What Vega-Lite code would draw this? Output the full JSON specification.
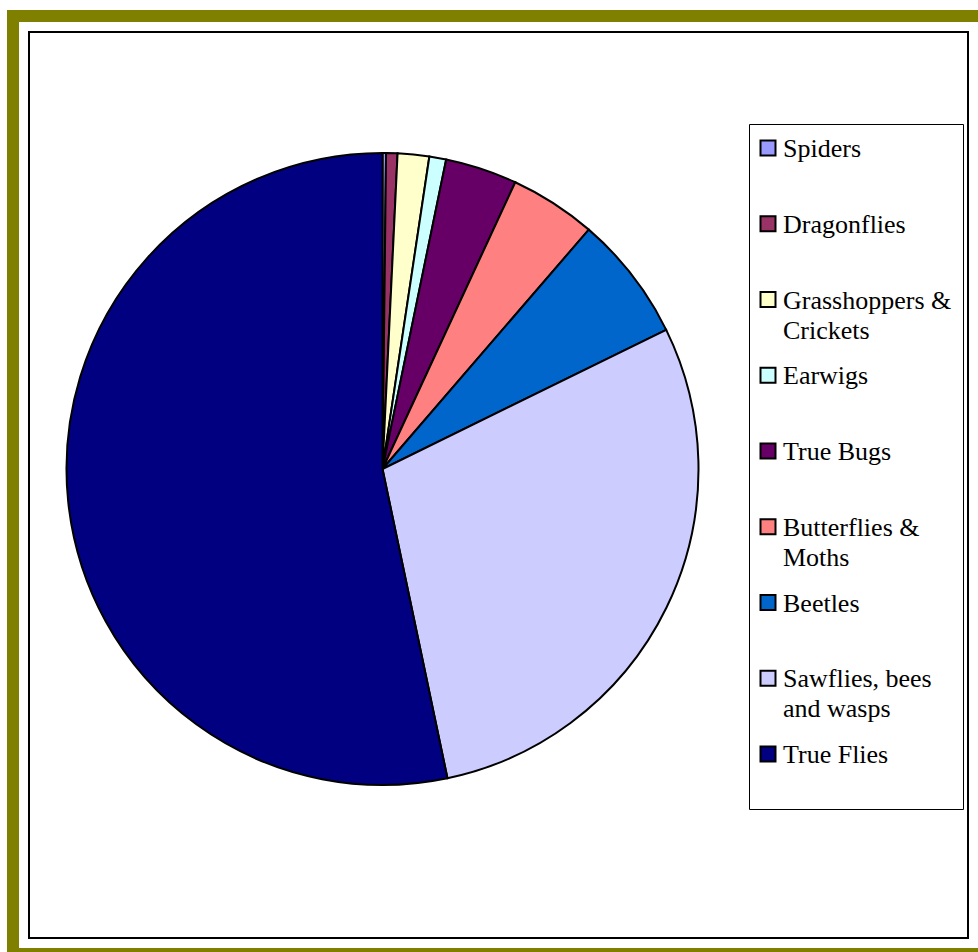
{
  "$schema": "https://vega.github.io/schema/vega-lite/v6.json",
  "width": 939,
  "height": 906,
  "autosize": "none",
  "padding": {"left": 29, "top": 32, "right": 10, "bottom": 14},
  "background": "white",
  "config": {"view": {"stroke": null}, "font": "Liberation Serif, Times New Roman, serif"},
  "layer": [
    {
      "data": {"values": [{"frame": "outer"}]},
      "mark": {"type": "rect", "fill": "transparent", "stroke": "#808000", "strokeWidth": 44},
      "encoding": {}
    },
    {
      "data": {"values": [{"frame": "gap"}]},
      "mark": {"type": "rect", "fill": "white", "stroke": "white", "strokeWidth": 20},
      "encoding": {}
    },
    {
      "data": {"values": [{"frame": "inner"}]},
      "mark": {"type": "rect", "fill": "transparent", "stroke": "black", "strokeWidth": 2},
      "encoding": {}
    },
    {
      "data": {
        "values": [
          {"group": "Spiders", "rank": 1, "share": 0.18},
          {"group": "Dragonflies", "rank": 2, "share": 0.58},
          {"group": "Grasshoppers & Crickets", "rank": 3, "share": 1.61},
          {"group": "Earwigs", "rank": 4, "share": 0.86},
          {"group": "True Bugs", "rank": 5, "share": 3.67},
          {"group": "Butterflies & Moths", "rank": 6, "share": 4.42},
          {"group": "Beetles", "rank": 7, "share": 6.42},
          {"group": "Sawflies, bees and wasps", "rank": 8, "share": 28.96},
          {"group": "True Flies", "rank": 9, "share": 53.29}
        ]
      },
      "mark": {"type": "arc", "outerRadius": 316, "stroke": "black", "strokeWidth": 2, "x": 353.5, "y": 437},
      "encoding": {
        "theta": {"field": "share", "type": "quantitative", "stack": true},
        "order": {"field": "rank", "type": "quantitative"},
        "color": {
          "field": "group",
          "type": "nominal",
          "sort": null,
          "scale": {
            "domain": ["Spiders", "Dragonflies", "Grasshoppers & Crickets", "Earwigs", "True Bugs", "Butterflies & Moths", "Beetles", "Sawflies, bees and wasps", "True Flies"],
            "range": ["#9999FF", "#993366", "#FFFFCC", "#CCFFFF", "#660066", "#FF8080", "#0066CC", "#CCCCFF", "#000080"]
          },
          "legend": {
            "orient": "none",
            "legendX": 720,
            "legendY": 92,
            "title": null,
            "symbolType": "square",
            "symbolSize": 225,
            "symbolStrokeColor": "black",
            "symbolStrokeWidth": 2,
            "labelFont": "Liberation Serif, Times New Roman, serif",
            "labelFontSize": 26,
            "labelColor": "black",
            "labelLimit": 400,
            "labelBaseline": "alphabetic",
            "labelExpr": "datum.label == 'Grasshoppers & Crickets' ? ['Grasshoppers &', 'Crickets'] : datum.label == 'Butterflies & Moths' ? ['Butterflies &', 'Moths'] : datum.label == 'Sawflies, bees and wasps' ? ['Sawflies, bees', 'and wasps'] : datum.label == 'True Flies' ? ['True Flies', ' '] : datum.label",
            "padding": 11,
            "strokeColor": "black",
            "fillColor": "white",
            "rowPadding": 18.75,
            "gridAlign": "all",
            "symbolOffset": -5,
            "labelOffset": 2,
            "encode": {"labels": {"update": {"dy": {"value": 9}, "lineHeight": {"value": 30}}}}
          }
        }
      }
    }
  ]
}
